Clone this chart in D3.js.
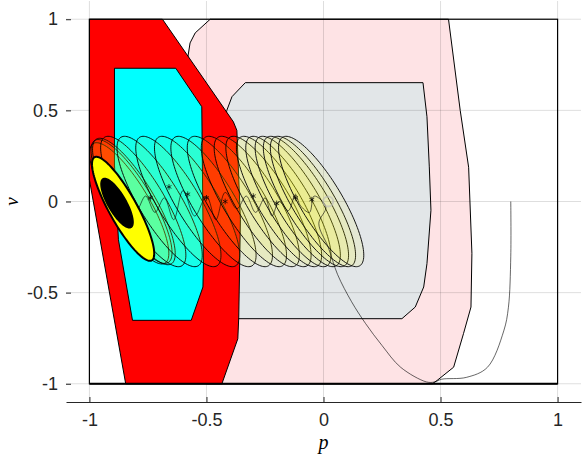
<!DOCTYPE html>
<html lang="en">

<head>
    <meta charset="UTF-8">
    <title>Tube</title>
    <style>
        body {
            margin: 0;
            padding: 0;
            background: #fff;
        }

        svg {
            display: block;
            background: #fff;
        }

        .tick text {
            font-family: "Liberation Sans", Arial, sans-serif;
            font-size: 18px;
            fill: #262626;
        }
    </style>
</head>

<body>
    <script src="https://d3js.org/d3.v7.min.js"></script>
    <script>
        const width = 582
        const height = 458

        // tick values and labels
        const xTicks = [-1, -0.5, 0, 0.5, 1]
        const xTickLabels = ['-1', '-0.5', '0', '0.5', '1']
        const yTicks = [-1, -0.5, 0, 0.5, 1]
        const yTickLabels = ['-1', '-0.5', '0', '0.5', '1']

        // regions as [p, v] vertices
        const pinkRegion = [[-0.484, 1], [0.534, 1], [0.584, 0.5], [0.62, 0.188], [0.634, -0.284],
            [0.63, -0.579], [0.598, -0.725], [0.556, -0.909], [0.485, -0.982], [0.465, -1],
            [-0.5, -1], [-0.6, 0.6], [-0.578, 0.804], [-0.57, 0.87], [-0.548, 0.925]]
        const grayRegion = [[-0.334, 0.652], [0.425, 0.652], [0.442, 0.465], [0.452, 0.19],
            [0.459, -0.048], [0.442, -0.341], [0.428, -0.469], [0.392, -0.579], [0.335, -0.643],
            [-0.40, -0.643], [-0.42, 0.45], [-0.413, 0.5], [-0.391, 0.575]]
        const redRegion = [[-1, 1], [-0.688, 1], [-0.385, 0.437], [-0.37, 0.39], [-0.355, -0.1],
            [-0.362, -0.634], [-0.366, -0.753], [-0.434, -1], [-0.845, -1], [-1, 0.12]]
        const cyanRegion = [[-0.893, 0.731], [-0.631, 0.731], [-0.52, 0.52], [-0.513, -0.341],
            [-0.515, -0.469], [-0.565, -0.652], [-0.816, -0.652], [-0.876, -0.21], [-0.893, 0.2]]

        // tube of ellipses: centre p, centre v, relative size
        const tubeP = [-0.83, -0.82, -0.81, -0.77, -0.70, -0.62, -0.54, -0.47, -0.40, -0.34,
            -0.285, -0.235, -0.19, -0.15, -0.11, -0.075, -0.045, -0.01]
        const tubeV = [-0.01, 0, 0, 0, 0, 0, 0, 0, 0, 0, 0, 0, 0, 0, 0, 0, 0, 0]
        const tubeSize = [0.93, 0.95, 0.97, 1, 1, 1, 1, 1, 1, 1, 1, 1, 1, 1, 1, 1, 1, 1]

        // terminal set and its trajectories
        const coreCenter = [-0.856, -0.04]
        const blobCenter = [-0.882, -0.009]

        const trajectory = [[0.80, 0.00], [0.80, -0.30], [0.79, -0.58], [0.77, -0.71], [0.70, -0.91],
            [0.61, -0.965], [0.505, -0.975], [0.475, -0.99], [0.44, -0.99], [0.33, -0.91],
            [0.25, -0.79], [0.18, -0.67], [0.12, -0.55], [0.06, -0.40], [0.02, -0.25],
            [-0.02, -0.12], [0.01, -0.03], [-0.04, 0.03], [-0.06, -0.06], [-0.10, -0.02],
            [-0.12, 0.04], [-0.15, -0.05], [-0.19, 0.00], [-0.22, -0.08], [-0.25, 0.02],
            [-0.29, -0.06], [-0.33, 0.03], [-0.37, -0.04], [-0.42, 0.05], [-0.46, -0.10],
            [-0.50, 0.03], [-0.55, -0.08], [-0.60, 0.06], [-0.64, -0.10], [-0.68, 0.02],
            [-0.72, -0.06], [-0.76, 0.03], [-0.80, -0.05], [-0.84, 0.00]]
        const starP = [-0.05, -0.12, -0.2, -0.3, -0.42, -0.5, -0.58, -0.66, -0.74, -0.82]
        const starV = [0.01, 0.02, -0.01, 0.03, 0.0, 0.02, 0.04, 0.08, 0.02, -0.02]

        const x = d3.scaleLinear().domain([-1.1, 1.1]).range([66, 581])
        const y = d3.scaleLinear().domain([-1.1, 1.1]).range([402, 1])

        const svg = d3.select('body').append('svg')
            .attr('width', width)
            .attr('height', height)

        const poly = d3.line()
            .x(d => x(d[0]))
            .y(d => y(d[1]))
            .curve(d3.curveLinearClosed)

        const pix = d3.line().curve(d3.curveLinearClosed)

        // tilted ellipse, in pixels around a data centre
        function ellipse(c, s, A, B, deg) {
            const th = deg * Math.PI / 180
            const pts = []
            for (let i = 0; i < 120; i++) {
                const t = i / 120 * 2 * Math.PI
                const dx = A * Math.cos(t), dy = B * Math.sin(t)
                const X = dx * Math.cos(th) - dy * Math.sin(th)
                const Y = dx * Math.sin(th) + dy * Math.cos(th)
                pts.push([x(c[0]) + s * X, y(c[1]) + s * Y])
            }
            return pix(pts)
        }

        svg.append('path').attr('d', poly(pinkRegion))
            .attr('fill', '#fee3e5').attr('stroke', '#000').attr('stroke-width', 1)
        svg.append('path').attr('d', poly(grayRegion))
            .attr('fill', '#e2e6e8').attr('stroke', '#000').attr('stroke-width', 1)

        // grid
        const grid = svg.append('g')
            .attr('stroke', '#000').attr('stroke-opacity', 0.13).attr('stroke-width', 1)
        grid.selectAll('.gx').data(xTicks).join('line')
            .attr('x1', d => x(d)).attr('x2', d => x(d))
            .attr('y1', y.range()[1]).attr('y2', y.range()[0])
        grid.selectAll('.gy').data(yTicks).join('line')
            .attr('y1', d => y(d)).attr('y2', d => y(d))
            .attr('x1', x.range()[0]).attr('x2', x.range()[1])

        svg.append('path').attr('d', poly(redRegion))
            .attr('fill', '#ff0000').attr('stroke', '#000').attr('stroke-width', 1)
        svg.append('path').attr('d', poly(cyanRegion))
            .attr('fill', '#00ffff').attr('stroke', '#000').attr('stroke-width', 1)

        // tube
        svg.append('g').selectAll('path')
            .data(tubeP.map((p, i) => ({ c: [p, tubeV[i]], s: tubeSize[i] })))
            .join('path')
            .attr('d', d => ellipse(d.c, d.s, 75, 21, 59))
            .attr('fill', '#ffff00')
            .attr('fill-opacity', 0.085)
            .attr('stroke', '#000')
            .attr('stroke-width', 0.9)

        // trajectory
        svg.append('path')
            .attr('d', d3.line().x(d => x(d[0])).y(d => y(d[1])).curve(d3.curveCatmullRom)(trajectory))
            .attr('fill', 'none').attr('stroke', '#000').attr('stroke-width', 0.6)

        svg.append('g').selectAll('path')
            .data(starP.map((p, i) => [p, starV[i]]))
            .join('path')
            .attr('transform', d => `translate(${x(d[0])},${y(d[1])})`)
            .attr('d', d3.symbol(d3.symbolAsterisk, 22))
            .attr('fill', 'none').attr('stroke', '#000').attr('stroke-width', 0.7)

        svg.append('circle')
            .attr('cx', x(0.02)).attr('cy', y(0.0)).attr('r', 5)
            .attr('fill', 'none').attr('stroke', '#bbb').attr('stroke-opacity', 0.6).attr('stroke-width', 2)

        // terminal set
        svg.append('path').attr('d', ellipse(coreCenter, 1, 59, 14, 61))
            .attr('fill', '#ffff00').attr('stroke', '#000').attr('stroke-width', 2)
        svg.append('path').attr('d', ellipse(blobCenter, 1, 28, 9, 60))
            .attr('fill', '#000').attr('stroke', '#000').attr('stroke-width', 1.5)

        // box
        svg.append('rect')
            .attr('x', x(-1)).attr('y', y(1))
            .attr('width', x(1) - x(-1)).attr('height', y(-1) - y(1))
            .attr('fill', 'none').attr('stroke', '#000').attr('stroke-width', 1.2)
        svg.append('line')
            .attr('x1', x(-1)).attr('x2', x(1)).attr('y1', y(-1)).attr('y2', y(-1))
            .attr('stroke', '#000').attr('stroke-width', 2.2)

        // axes
        const xAxis = svg.append('g')
            .attr('transform', `translate(0,${y.range()[0]})`)
            .call(d3.axisBottom(x).tickValues(xTicks)
                .tickFormat((d, i) => xTickLabels[i])
                .tickSizeInner(-5).tickSizeOuter(0).tickPadding(11))
        xAxis.select('.domain').attr('stroke', '#262626')
        xAxis.selectAll('.tick line').attr('stroke', '#262626')

        const yAxis = svg.append('g')
            .attr('transform', `translate(${x.range()[0]},0)`)
            .call(d3.axisLeft(y).tickValues(yTicks)
                .tickFormat((d, i) => yTickLabels[i])
                .tickSizeInner(-5).tickSizeOuter(0).tickPadding(8))
        yAxis.select('.domain').remove()
        yAxis.selectAll('.tick line').attr('stroke', '#262626')

        svg.append('text')
            .attr('x', x(0)).attr('y', 449)
            .attr('text-anchor', 'middle')
            .style('font-family', '"Liberation Serif", serif')
            .style('font-style', 'italic')
            .style('font-size', '20px')
            .text('p')

        svg.append('text')
            .attr('transform', `translate(18,${y(0)}) rotate(-90)`)
            .attr('text-anchor', 'middle')
            .style('font-family', '"Liberation Serif", serif')
            .style('font-style', 'italic')
            .style('font-size', '19px')
            .text('v')
    </script>
</body>

</html>
